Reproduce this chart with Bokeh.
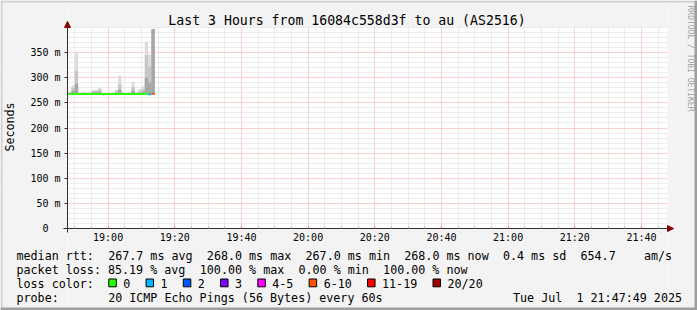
import re
from math import pi
import pandas as pd
from bokeh.plotting import figure
from bokeh.models import (ColumnDataSource, Range1d, FixedTicker, DatetimeTickFormatter,
                          CustomJSTickFormatter, Label, Arrow, NormalHead)
from bokeh.embed import file_html
from bokeh.resources import INLINE

# ---------------- data ----------------
DAY = "2025-07-01"
title_text = "Last 3 Hours from 16084c558d3f to au (AS2516)"
range_start = "18:47:49"
range_end = "21:47:49"

sample_times = ["18:48", "18:49", "18:50", "18:51", "18:52", "18:53", "18:54", "18:55",
                "18:56", "18:57", "18:58", "18:59", "19:00", "19:01", "19:02", "19:03",
                "19:04", "19:05", "19:06", "19:07", "19:08", "19:09", "19:10", "19:11",
                "19:12", "19:13"]
median_ms = [267.5, 267.8, 268.0, 267.5, 267.6, 267.5, 267.5, 267.7, 267.7, 267.8, 267.4, 267.5,
             267.5, 267.5, 267.7, 268.0, 267.6, 267.5, 267.5, 267.8, 267.6, 267.7, 267.8, 268.0,
             267.0, 268.0]
min_ms = [267.0, 267.0, 267.0, 267.0, 267.0, 267.0, 267.0, 267.0, 267.0, 267.0, 267.0, 267.0,
          267.0, 267.0, 267.0, 267.0, 267.0, 267.0, 267.0, 267.0, 267.0, 267.0, 267.0, 267.0,
          267.0, 267.0]
inner_ms = [269, 274, 288, 268, 269, 269, 269, 271, 271, 272, 268, 268,
            268, 268, 270, 276, 269, 268, 269, 274, 269, 270, 272, 300,
            290, 397]
mid_ms = [270, 279, 313, 268, 270, 270, 270, 273, 274, 276, 268, 268,
          268, 269, 273, 286, 270, 269, 270, 281, 270, 273, 277, 345,
          322, 397]
max_ms = [272, 285, 349, 269, 272, 271, 271, 275, 276, 280, 269, 269,
          269, 270, 276, 304, 272, 270, 271, 292, 272, 277, 283, 372,
          346, 397]
loss_bin = [0, 0, 0, 0, 0, 0, 0, 0, 0, 0, 0, 0,
            0, 0, 0, 0, 0, 0, 0, 0, 0, 0, 0, 0,
            1, 5]

loss_labels = ["0", "1", "2", "3", "4-5", "6-10", "11-19", "20/20"]
loss_colors = ["#26ff00", "#00b8ff", "#0059ff", "#7e00ff", "#ff00ff", "#ff5500", "#ff0000", "#a10000"]

y_major = [0, 50, 100, 150, 200, 250, 300, 350]
x_major = ["19:00", "19:20", "19:40", "20:00", "20:20", "20:40", "21:00", "21:20", "21:40"]

legend_rtt = "median rtt:  267.7 ms avg  268.0 ms max  267.0 ms min  268.0 ms now  0.4 ms sd  654.7    am/s"
legend_loss = "packet loss: 85.19 % avg  100.00 % max  0.00 % min  100.00 % now"
legend_color = "loss color:"
legend_probe = "probe:       20 ICMP Echo Pings (56 Bytes) every 60s"
timestamp_text = "Tue Jul  1 21:47:49 2025"
watermark = "RRDTOOL / TOBI OETIKER"
y_label = "Seconds"


def ms(hm):
    return pd.Timestamp(f"{DAY} {hm}").value / 1e6


FONT = "DejaVu Sans Mono"
BG = "#F3F3F3"
W, H = 697, 310
X_LEFT_PX, X_RIGHT_PX = 67, 667     # plot area in page pixels
Y_ZERO_PX, Y_TOP_PX = 228, 27
x0, x1 = ms(range_start), ms(range_end)
MS_PER_PX = (x1 - x0) / (X_RIGHT_PX - X_LEFT_PX)
Y_PER_PX = 400.0 / (Y_ZERO_PX - Y_TOP_PX)
TXT_SHIFT = 3.2   # label baseline correction (px, upward)


def cx(px):
    return x0 + (px - X_LEFT_PX) * MS_PER_PX


def cy(py):
    return (Y_ZERO_PX - py) * Y_PER_PX


p = figure(width=W, height=H, output_backend="svg", toolbar_location=None,
           x_axis_type="datetime", x_range=Range1d(cx(0), cx(W)), y_range=Range1d(cy(H), cy(0)),
           min_border_left=0, min_border_right=0, min_border_top=0, min_border_bottom=0)
p.background_fill_color = "#FFFFFF"
p.border_fill_color = BG
p.outline_line_color = None

# ticks / grid
x_major_ms = [ms(h) for h in x_major]
x_minor_ms = [ms("18:50") + k * 300000 for k in range(36)]
x_minor_ms = [v for v in x_minor_ms if v not in x_major_ms]
xt = FixedTicker(ticks=x_major_ms, minor_ticks=x_minor_ms)
y_minor = [v for v in range(0, 401, 10) if v not in y_major]
yt = FixedTicker(ticks=y_major, minor_ticks=y_minor)
p.xaxis.ticker = xt
p.yaxis.ticker = yt
p.xgrid.ticker = xt
p.ygrid.ticker = yt

for g in (p.xgrid, p.ygrid):
    g.grid_line_color = "#F4A4A4"
    g.grid_line_alpha = 1.0
    g.grid_line_dash = "1 1"
    g.minor_grid_line_color = "#DADADA"
    g.minor_grid_line_alpha = 1.0
    g.minor_grid_line_dash = "1 1"

p.xaxis.fixed_location = 0
p.yaxis.fixed_location = x0
p.xaxis.bounds = (x0 - 4 * MS_PER_PX, x1 + 6 * MS_PER_PX)
p.yaxis.bounds = (-4 * Y_PER_PX, 412)

p.xaxis.formatter = DatetimeTickFormatter(minutes="%H:%M", hourmin="%H:%M", hours="%H:%M",
                                          minsec="%H:%M", seconds="%H:%M")
p.yaxis.formatter = CustomJSTickFormatter(code="return tick == 0 ? '0\\u00a0\\u00a0' : tick + ' m';")

for ax in (p.xaxis[0], p.yaxis[0]):
    ax.major_label_text_font = FONT
    ax.major_label_text_font_size = "10px"
    ax.major_label_text_color = "#000000"
    ax.axis_line_color = "#303030"
    ax.minor_tick_in = 0
    ax.minor_tick_out = 0

p.xaxis.major_tick_in = 2
p.xaxis.major_tick_out = 0
p.xaxis.major_tick_line_color = "#E07070"
p.xaxis.minor_tick_in = 2
p.xaxis.minor_tick_line_color = "#AAAAAA"
p.xaxis.major_label_standoff = 3

p.yaxis.major_tick_in = 0
p.yaxis.major_tick_out = 3
p.yaxis.major_tick_line_color = "#303030"
p.yaxis.major_label_standoff = 4
p.yaxis.axis_label = y_label
p.yaxis.axis_label_text_font = FONT
p.yaxis.axis_label_text_font_size = "11.7px"
p.yaxis.axis_label_text_font_style = "normal"
p.yaxis.axis_label_text_color = "#000000"
p.yaxis.axis_label_standoff = 10

# page background outside the plot area (hides grid lines there)
covers = [(0, X_LEFT_PX, 0, H), (X_RIGHT_PX, W, 0, H),
          (X_LEFT_PX, X_RIGHT_PX, 0, Y_TOP_PX - 0.5), (X_LEFT_PX, X_RIGHT_PX, Y_ZERO_PX, H)]
p.quad(left=[cx(c[0]) for c in covers], right=[cx(c[1]) for c in covers],
       top=[cy(c[2]) for c in covers], bottom=[cy(c[3]) for c in covers],
       fill_color=BG, line_color=None)

# 3D frame of the image
edges = [(0, W, 0, 2, "#CFCFCF"), (0, 2, 0, H, "#CFCFCF"),
         (W - 3, W, 0, H, "#9E9E9E"), (0, W, H - 3, H, "#9E9E9E")]
p.quad(left=[cx(e[0]) for e in edges], right=[cx(e[1]) for e in edges],
       top=[cy(e[2]) for e in edges], bottom=[cy(e[3]) for e in edges],
       fill_color=[e[4] for e in edges], line_color=None)

# smoke + median
src = ColumnDataSource(dict(
    left=[ms(t) for t in sample_times],
    right=[ms(t) + 60000 for t in sample_times],
    low=min_ms, inner=inner_ms, mid=mid_ms, top=max_ms, med=median_ms,
    color=[loss_colors[b] for b in loss_bin],
))
p.quad(left="left", right="right", bottom="low", top="top", source=src,
       fill_color="#DCDCDC", line_color=None)
p.quad(left="left", right="right", bottom="low", top="mid", source=src,
       fill_color="#C6C6C6", line_color=None)
p.quad(left="left", right="right", bottom="low", top="inner", source=src,
       fill_color="#A6A6A6", line_color=None)
p.segment(x0="left", y0="med", x1="right", y1="med", source=src,
          line_color="color", line_width=2)

# axis arrow heads
head = dict(size=6, fill_color="#8B0000", line_color="#8B0000")
p.add_layout(Arrow(x_start=x1, y_start=0, x_end=x1 + 6 * MS_PER_PX, y_end=0,
                   line_color="#303030", line_width=1, end=NormalHead(**head)))
p.add_layout(Arrow(x_start=x0, y_start=400, x_end=x0, y_end=412,
                   line_color="#303030", line_width=1, end=NormalHead(**head)))


def text(x, y, s, size="11.7px", align="left", color="#000000", angle=0.0, baseline="alphabetic"):
    yy = y - TXT_SHIFT if baseline == "alphabetic" else y
    p.add_layout(Label(x=cx(x), y=cy(yy), text=s,
                       text_font=FONT, text_font_size=size, text_align=align,
                       text_baseline=baseline, text_color=color, angle=angle))


def tokens(s):
    return [(m.start(), m.group()) for m in re.finditer(r"\S+(?: \S+)*", s)]


CW = 7.05
LX = 16
# title
text(346.5, 23.3, title_text, size="13.2px", align="center")
# watermark
text(689.5, 5, watermark, size="8px", color="#A0A0A0", angle=-pi / 2, baseline="middle")

# legend lines
for base, line in ((258.5, legend_rtt), (272.4, legend_loss), (286.3, legend_color), (300.2, legend_probe)):
    for idx, tok in tokens(line):
        text(LX + idx * CW, base, tok)

# loss colour boxes
bx = 108.3
box_l, box_r = [], []
for lab in loss_labels:
    box_l.append(cx(bx))
    box_r.append(cx(bx + 7.5))
    text(bx + 14.5, 286.3, lab)
    bx += 30.2 + len(lab) * 7.05
p.quad(left=box_l, right=box_r, top=cy(278.5), bottom=cy(286.3),
       fill_color=loss_colors, line_color="#000000", line_width=1)

# timestamp
for idx, tok in tokens(timestamp_text):
    text(512.5 + idx * CW, 300.2, tok)

open("out.html", "w").write(file_html(p, INLINE))
